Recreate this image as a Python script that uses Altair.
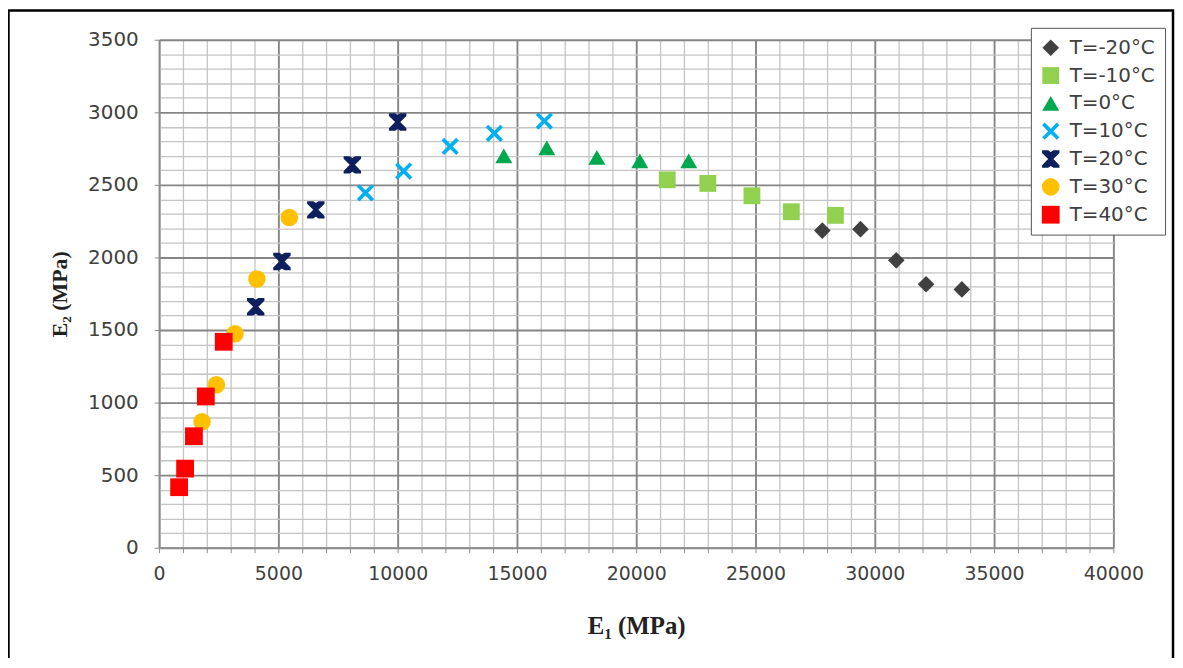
import altair as alt
import pandas as pd

series = ["T=-20°C", "T=-10°C", "T=0°C", "T=10°C", "T=20°C", "T=30°C", "T=40°C"]

e1_m20 = [27800, 29400, 30900, 32150, 33650]
e2_m20 = [2185, 2195, 1980, 1815, 1780]
e1_m10 = [21300, 23000, 24850, 26500, 28350]
e2_m10 = [2535, 2510, 2425, 2315, 2290]
e1_0 = [14450, 16250, 18350, 20150, 22200]
e2_0 = [2700, 2755, 2690, 2665, 2665]
e1_10 = [8650, 10250, 12200, 14050, 16150]
e2_10 = [2445, 2595, 2765, 2855, 2940]
e1_20 = [4050, 5150, 6570, 8100, 10000]
e2_20 = [1660, 1972, 2328, 2638, 2933]
e1_30 = [1800, 2400, 3180, 4100, 5460]
e2_30 = [868, 1123, 1474, 1852, 2275]
e1_40 = [840, 1090, 1460, 1960, 2710]
e2_40 = [417, 545, 768, 1042, 1419]

e1_all = [e1_m20, e1_m10, e1_0, e1_10, e1_20, e1_30, e1_40]
e2_all = [e2_m20, e2_m10, e2_0, e2_10, e2_20, e2_30, e2_40]

rows = []
for s, xs, ys in zip(series, e1_all, e2_all):
    for a, b in zip(xs, ys):
        rows.append({"T": s, "E1": a, "E2": b})
df = pd.DataFrame(rows)

colors = ["#404040", "#92D050", "#00A84F", "#00B0F0", "#0D1F5C", "#FFC000", "#FF0000"]
x_path = "M-1,-0.7L-0.7,-1L0,-0.3L0.7,-1L1,-0.7L0.3,0L1,0.7L0.7,1L0,0.3L-0.7,1L-1,0.7L-0.3,0Z"
star_path = "M-1,-1L-0.3,-1L0,-0.8L0.3,-1L1,-1L1,-0.7L0.3,0L1,0.7L1,1L0.3,1L0,0.8L-0.3,1L-1,1L-1,0.7L-0.3,0L-1,-0.7Z"
shapes = ["diamond", "square", "triangle-up", x_path, star_path, "circle", "square"]
sizes = [280, 320, 300, 240, 220, 340, 320]

label_font = "DejaVu Sans"
title_font = "Liberation Serif"

x_axis = alt.Axis(
    values=list(range(0, 40001, 1000)),
    labelExpr="datum.value % 5000 === 0 ? datum.label : ''",
    format="d",
    labelOverlap=False,
    labelFlush=False,
    labelFont=label_font,
    labelFontSize=19,
    labelColor="#404040",
    labelPadding=12,
    tickSize=5,
    tickColor="#8c8c8c",
    domainColor="#8c8c8c",
    domainWidth=1.5,
    gridColor={"condition": {"test": "datum.value % 5000 === 0", "value": "#858585"}, "value": "#c4c4c4"},
    gridWidth={"condition": {"test": "datum.value % 5000 === 0", "value": 1.9}, "value": 1.3},
    title="E₁ (MPa)",
    titleFont=title_font,
    titleFontWeight="bold",
    titleFontSize=25,
    titleColor="#222222",
    titleY=78,
    titleBaseline="middle",
)

y_axis = alt.Axis(
    values=list(range(0, 3501, 100)),
    labelExpr="datum.value % 500 === 0 ? datum.label : ''",
    format="d",
    labelOverlap=False,
    labelFlush=False,
    labelFont=label_font,
    labelFontSize=20,
    labelColor="#404040",
    labelPadding=16,
    tickSize=5,
    tickColor="#8c8c8c",
    tickOpacity={"condition": {"test": "datum.value % 500 === 0", "value": 1}, "value": 0},
    domainColor="#8c8c8c",
    domainWidth=1.5,
    gridColor={"condition": {"test": "datum.value % 500 === 0", "value": "#858585"}, "value": "#c4c4c4"},
    gridWidth={"condition": {"test": "datum.value % 500 === 0", "value": 1.9}, "value": 1.3},
    title="E₂ (MPa)",
    titleFont=title_font,
    titleFontWeight="bold",
    titleFontSize=22,
    titleColor="#222222",
    titleX=-100,
    titleBaseline="middle",
)

legend_kw = dict(title=None, orient="none", legendX=877, legendY=-12)

points = alt.Chart(df).mark_point(filled=True, opacity=1, strokeWidth=0).encode(
    x=alt.X("E1:Q", scale=alt.Scale(domain=[0, 40000], nice=False, zero=False), axis=x_axis),
    y=alt.Y("E2:Q", scale=alt.Scale(domain=[0, 3500], nice=False, zero=False), axis=y_axis),
    color=alt.Color("T:N", sort=series, scale=alt.Scale(domain=series, range=colors),
                    legend=alt.Legend(**legend_kw)),
    shape=alt.Shape("T:N", sort=series, scale=alt.Scale(domain=series, range=shapes),
                    legend=alt.Legend(**legend_kw)),
    size=alt.Size("T:N", sort=series, scale=alt.Scale(domain=series, range=sizes), legend=None),
)

frame = alt.Chart(alt.Data(values=[{"k": 1}])).mark_rect(
    filled=False, stroke="black", strokeWidth=2.5
).encode(
    x=alt.value(-151.5), x2=alt.value(1020), y=alt.value(-29.5), y2=alt.value(700)
)

chart = alt.layer(points, frame).properties(
    width=960,
    height=511,
    autosize=alt.AutoSizeParams(type="none"),
    padding={"left": 152, "top": 30, "right": 62, "bottom": 109},
).configure_view(stroke=None).configure_legend(
    labelFont=label_font,
    labelFontSize=20,
    labelColor="#404040",
    symbolSize=220,
    symbolStrokeWidth=0,
    strokeColor="#555555",
    fillColor="white",
    padding=10,
    rowPadding=8,
    labelOffset=9,
    cornerRadius=0,
)

chart.save("out.html", embed_options={"renderer": "svg", "actions": False})
